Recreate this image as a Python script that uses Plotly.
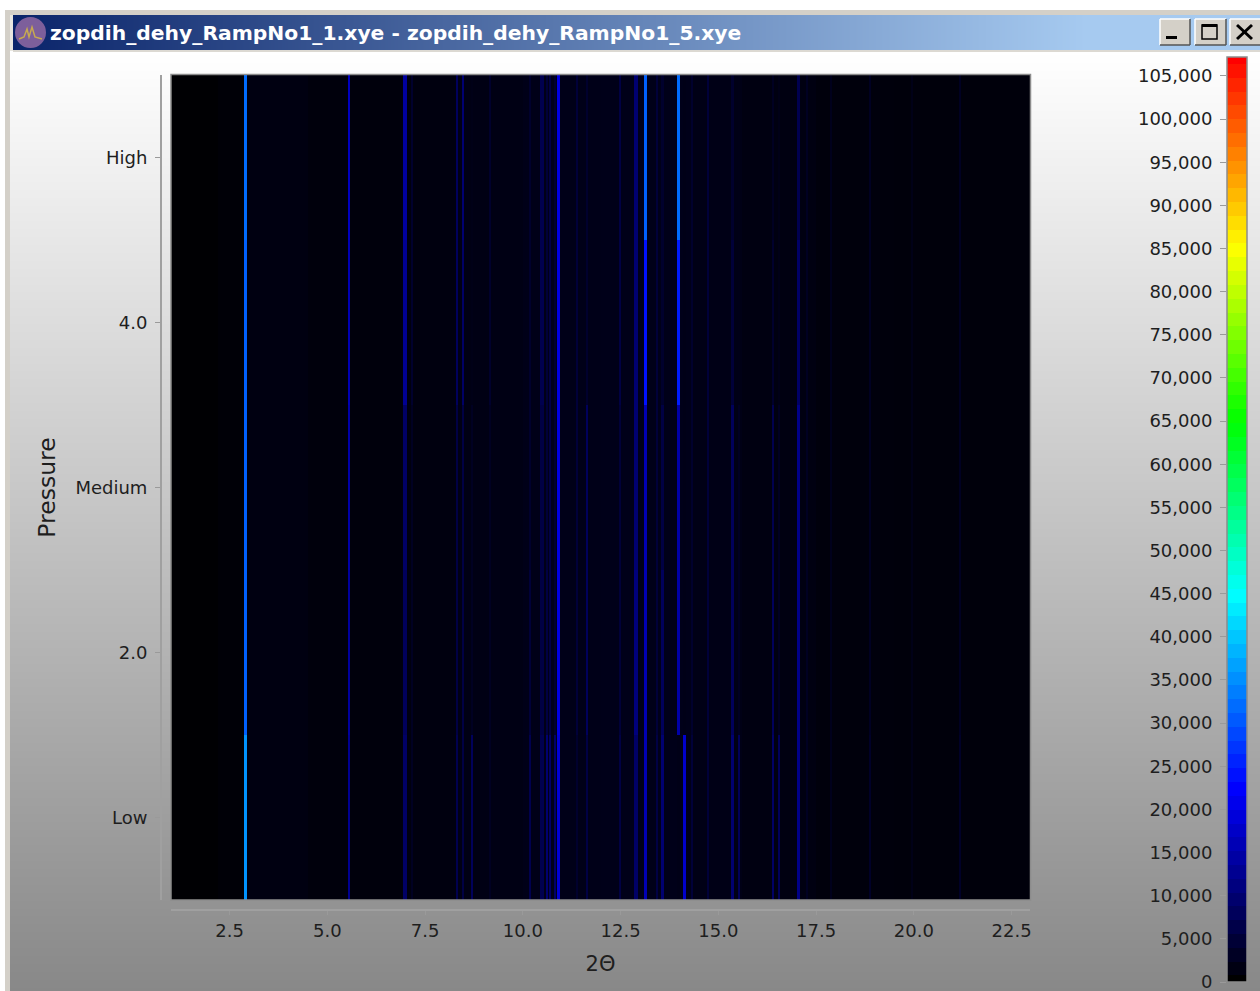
import numpy as np
import plotly.graph_objects as go

W, H = 1260, 991

# ---- data ----
band_levels = [1, 2, 3, 4, 5]
band_labels = ["Low", "2.0", "Medium", "4.0", "High"]
x_ticks = [2.5, 5.0, 7.5, 10.0, 12.5, 15.0, 17.5, 20.0, 22.5]
x_tick_labels = ["2.5", "5.0", "7.5", "10.0", "12.5", "15.0", "17.5", "20.0", "22.5"]
scale_ticks = [0, 5000, 10000, 15000, 20000, 25000, 30000, 35000, 40000, 45000, 50000,
               55000, 60000, 65000, 70000, 75000, 80000, 85000, 90000, 95000, 100000, 105000]

# background intensity between the peaks
base_edges = [1.0, 2.2, 2.9, 4.5, 6.9, 8.3, 10.0, 12.0, 14.3, 15.6, 17.5, 19.5, 21.0, 22.97]
base_values = [250, 600, 1500, 1100, 1300, 1800, 2100, 2200, 1900, 1500, 1100, 1000, 1000]

peak_center = [2.905, 5.55, 6.99, 7.16, 8.31, 8.46, 8.70, 9.16, 10.19, 10.50, 10.61, 10.70, 10.81,
               10.91, 11.38, 11.65, 12.49, 12.89, 13.13, 13.43, 13.57, 13.98, 14.13, 14.33, 14.74,
               15.36, 15.52, 16.39, 16.54, 17.04, 17.27, 17.88, 18.88, 19.96, 21.19]
peak_width = [0.07, 0.055, 0.09, 0.05, 0.055, 0.06, 0.055, 0.05, 0.055, 0.10, 0.055, 0.05, 0.05,
              0.07, 0.05, 0.055, 0.05, 0.09, 0.08, 0.05, 0.055, 0.07, 0.07, 0.04, 0.05,
              0.07, 0.055, 0.06, 0.055, 0.07, 0.05, 0.05, 0.05, 0.05, 0.05]
peak_low = [35500, 13000, 9000, 3000, 7000, 6000, 8000, 3000, 7000, 7000, 10000, 9000, 9000,
            19000, 4000, 6000, 6000, 9000, 16000, 6000, 10000, 2000, 18000, 5000, 5000,
            10000, 8000, 9000, 8000, 12000, 3000, 2500, 3500, 2000, 3500]
peak_2 = [31000, 14000, 8000, 3000, 6000, 6000, 3000, 3000, 5000, 6000, 6000, 6000, 4000,
          20000, 5000, 8000, 5000, 11000, 16000, 5000, 8000, 15000, 2000, 4000, 5000,
          8000, 3000, 8000, 3000, 12000, 3000, 2500, 3000, 2000, 3000]
peak_med = [31000, 15000, 9000, 3000, 6000, 6000, 3000, 3000, 4000, 6000, 5000, 6000, 4000,
            20000, 5000, 8000, 5000, 10000, 16000, 5000, 6000, 15000, 2000, 4000, 5000,
            8000, 3000, 7000, 3000, 12000, 3000, 2500, 3000, 2000, 3000]
peak_4 = [31000, 16000, 13000, 4000, 8000, 9000, 2000, 4000, 4000, 7000, 5000, 6000, 4000,
          20000, 5000, 4000, 6000, 10000, 24000, 5000, 4000, 25000, 2000, 4000, 5000,
          5000, 2000, 4000, 2000, 9000, 3000, 2500, 3000, 2000, 3000]
peak_high = [32000, 17000, 14000, 4000, 8000, 10000, 2000, 4000, 4000, 7000, 5000, 6000, 4000,
             20000, 5000, 4000, 6000, 10000, 31000, 5000, 4000, 32000, 2000, 4000, 5000,
             4000, 2000, 3000, 2000, 7000, 3000, 2500, 3000, 2000, 3000]
peak_rows = [peak_low, peak_2, peak_med, peak_4, peak_high]

scale_max = 107200
jet_stops = [0, 22500, 45000, 65000, 85000, 107200]
jet_colors = ["#000000", "#0000ff", "#00ffff", "#00ff00", "#ffff00", "#ff0000"]
colorscale = [[v / scale_max, c] for v, c in zip(jet_stops, jet_colors)]

# ---- assemble the cells ----
half = np.array(peak_width) / 2
edges = sorted(set(base_edges) | set(np.round(np.array(peak_center) - half, 4).tolist())
               | set(np.round(np.array(peak_center) + half, 4).tolist()))
edges = np.array(edges)
mids = (edges[:-1] + edges[1:]) / 2
base_idx = np.clip(np.searchsorted(base_edges, mids) - 1, 0, len(base_values) - 1)
z = []
for row in peak_rows:
    line = np.array(base_values, dtype=float)[base_idx]
    for c, w, v in zip(peak_center, peak_width, row):
        line[(mids > c - w / 2) & (mids < c + w / 2)] = v
    z.append(line.tolist())


def px(v):
    return v / W


def py(v):
    return 1 - v / H


fig = go.Figure()

# page gradient (window body), first subplot so it sits underneath
fig.add_trace(go.Heatmap(z=[[255, 255], [136, 136]], x=[0, 1], y=[1, 0], xaxis="x", yaxis="y",
                         zsmooth="best", showscale=False, hoverinfo="skip",
                         colorscale=[[0, "#888888"], [1, "#ffffff"]], zmin=136, zmax=255))

# main map
fig.add_trace(go.Heatmap(z=z, x=edges.tolist(), y=band_levels, xaxis="x2", yaxis="y2",
                         colorscale=colorscale, zmin=0, zmax=scale_max, showscale=False,
                         hovertemplate="2Θ %{x}<br>%{z}<extra></extra>"))

# colour scale drawn as its own strip so labels can sit on the left
levels = list(range(0, scale_max + 3200, 1600))
fig.add_trace(go.Heatmap(z=[[min(v, scale_max)] for v in levels], x=[0], y=levels, xaxis="x3", yaxis="y3",
                         colorscale=colorscale, zmin=0, zmax=scale_max, showscale=False,
                         hoverinfo="skip"))

# title bar gradient
fig.add_trace(go.Heatmap(z=[[0, 1], [0, 1]], x=[0, 1], y=[0, 1], xaxis="x4", yaxis="y4",
                         zsmooth="best", showscale=False, hoverinfo="skip",
                         colorscale=[[0, "#0a246a"], [0.86, "#a6caf0"], [1, "#a6caf0"]]))

hidden = dict(visible=False, fixedrange=True)
text_col = "#1e1e1e"
font = "DejaVu Sans"

fig.update_layout(
    width=W, height=H, margin=dict(l=0, r=0, t=0, b=0, pad=0, autoexpand=False),
    paper_bgcolor="white", plot_bgcolor="rgba(0,0,0,0)", showlegend=False,
    font=dict(family=font, size=18, color=text_col),
    xaxis=dict(domain=[px(10), 1], range=[0, 1], **hidden),
    yaxis=dict(domain=[0, py(51)], range=[0, 1], anchor="x", **hidden),
    xaxis2=dict(domain=[px(171), px(1030)], range=[1.0, 22.97], anchor="free", position=py(909.5),
                tickmode="array", tickvals=x_ticks, ticktext=x_tick_labels, ticks="outside", ticklen=4,
                tickcolor="#9a9a9a", showline=True, linecolor="#a0a0a0", linewidth=2, showgrid=False,
                zeroline=False, ticklabelstandoff=1, fixedrange=True,
                title=dict(text="2Θ", font=dict(size=21, family=font), standoff=15)),
    yaxis2=dict(domain=[py(900), py(75)], range=[0.5, 5.5], anchor="free", position=px(161),
                tickmode="array", tickvals=band_levels, ticktext=band_labels, ticks="outside", ticklen=5,
                tickcolor="#9a9a9a", showline=True, linecolor="#a0a0a0", linewidth=2, showgrid=False,
                zeroline=False, ticklabelstandoff=4, fixedrange=True,
                title=dict(text="Pressure", font=dict(size=23.5, family=font), standoff=12)),
    xaxis3=dict(domain=[px(1227), px(1247)], range=[-0.5, 0.5], anchor="y3", **hidden),
    yaxis3=dict(domain=[py(982), py(57)], range=[0, scale_max], anchor="x3", tickmode="array",
                tickvals=scale_ticks, tickformat=",d", ticks="outside", ticklen=6, tickcolor="#9a9a9a",
                showgrid=False, zeroline=False, showline=False, ticklabelstandoff=4, fixedrange=True,
                ticklabeloverflow="allow"),
    xaxis4=dict(domain=[px(13), 1], range=[0, 1], anchor="y4", **hidden),
    yaxis4=dict(domain=[py(50), py(15)], range=[0, 1], anchor="x4", **hidden),
)


def rect(x0, y0, x1, y1, fill="rgba(0,0,0,0)", line=None, width=1, layer="above"):
    return dict(type="rect", xref="paper", yref="paper", x0=px(x0), x1=px(x1), y0=py(y0), y1=py(y1),
                fillcolor=fill, line=dict(color=line or "rgba(0,0,0,0)", width=width if line else 0),
                layer=layer)


def seg(x0, y0, x1, y1, color="#000000", width=3):
    return dict(type="line", xref="paper", yref="paper", x0=px(x0), x1=px(x1), y0=py(y0), y1=py(y1),
                line=dict(color=color, width=width), layer="above")


shapes = [
    # window frame
    rect(5, 10, 10, H, fill="#d4d0c8"),
    rect(5, 10, W, 15, fill="#d4d0c8"),
    rect(10, 15, 13, 51, fill="#e8e6e0"),
    rect(13, 50, W, 52, fill="#dcd9d2"),
    # plot frame and colour bar frame
    rect(171, 74.5, 1030.5, 900, line="#8c8c8c", width=1.5),
    rect(1227, 57, 1247, 982, line="#8c8c8c", width=1.5),
    # icon
    dict(type="circle", xref="paper", yref="paper", x0=px(15), x1=px(46), y0=py(48), y1=py(17),
         fillcolor="#7d5f9b", line=dict(width=0)),
    dict(type="path", xref="paper", yref="paper", layer="above", line=dict(color="#c8aa50", width=1.5),
         path=f"M {px(19)} {py(39)} L {px(24)} {py(37)} L {px(27)} {py(29)} L {px(29)} {py(37)} "
              f"L {px(32)} {py(27)} L {px(35)} {py(37)} L {px(42)} {py(39)}"),
]
# window buttons
for x0, x1 in [(1160, 1190), (1195, 1226), (1230, 1262)]:
    shapes += [rect(x0, 19, x1, 45, fill="#d4d0c8"),
               seg(x0, 19, x1, 19, "#ffffff", 1.5), seg(x0, 19, x0, 45, "#ffffff", 1.5),
               seg(x0, 45, x1, 45, "#555555", 1.5), seg(x1, 19, x1, 45, "#555555", 1.5)]
shapes += [
    rect(1166, 36, 1177, 39, fill="#000000"),
    rect(1202, 25, 1217, 39, line="#000000", width=1.5), rect(1202, 24, 1217, 27, fill="#000000"),
    seg(1237, 25, 1252, 39), seg(1252, 25, 1237, 39),
]

fig.update_layout(
    shapes=shapes,
    annotations=[dict(text="<b>zopdih_dehy_RampNo1_1.xye - zopdih_dehy_RampNo1_5.xye</b>",
                      xref="paper", yref="paper", x=px(48), y=py(33), xanchor="left", yanchor="middle",
                      showarrow=False, font=dict(family=font, size=20.3, color="white"))],
)

fig.write_html("out.html", config=dict(displayModeBar=False),
               post_script="document.body.style.margin='0';document.body.style.overflow='hidden';")
